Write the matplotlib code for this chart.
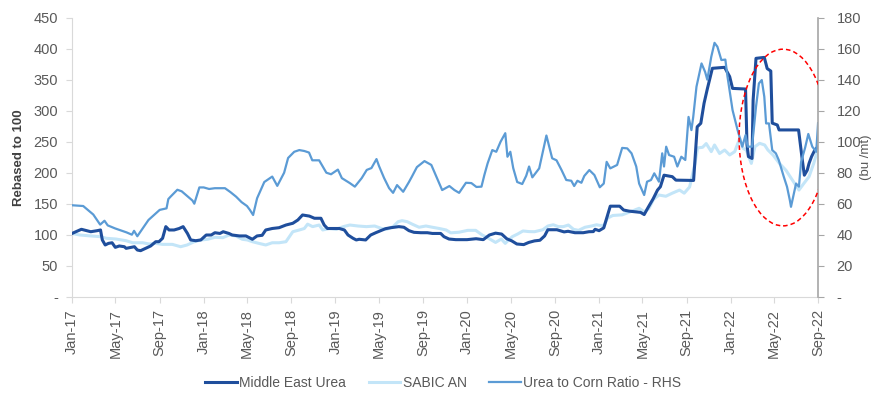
import pandas as pd
import matplotlib
matplotlib.use("Agg")
import matplotlib.pyplot as plt
import matplotlib.dates as mdates
from matplotlib.patches import Ellipse
from matplotlib.ticker import FuncFormatter, MultipleLocator

plt.rcParams['font.family'] = ['Liberation Sans', 'DejaVu Sans']

# Middle East Urea, rebased to 100 (left axis)
urea_dates = [
    "2017-01-01", "2017-01-27", "2017-02-22", "2017-03-12", "2017-03-21", "2017-03-26",
    "2017-04-03", "2017-04-12", "2017-04-22", "2017-05-01", "2017-05-12", "2017-05-26",
    "2017-05-31", "2017-06-14", "2017-06-23", "2017-07-01", "2017-07-10", "2017-07-24",
    "2017-08-07", "2017-08-21", "2017-08-30", "2017-09-09", "2017-09-18", "2017-09-27",
    "2017-10-11", "2017-10-25", "2017-11-05", "2017-11-17", "2017-11-26", "2017-12-10",
    "2017-12-24", "2018-01-08", "2018-01-22", "2018-02-01", "2018-02-15", "2018-02-24",
    "2018-03-12", "2018-03-21", "2018-04-10", "2018-04-28", "2018-05-16", "2018-05-29",
    "2018-06-12", "2018-06-22", "2018-07-10", "2018-07-29", "2018-08-17", "2018-09-05",
    "2018-09-19", "2018-10-02", "2018-10-21", "2018-11-04", "2018-11-22", "2018-12-01",
    "2018-12-10", "2018-12-24", "2019-01-12", "2019-01-26", "2019-02-05", "2019-02-19",
    "2019-02-28", "2019-03-08", "2019-03-26", "2019-04-09", "2019-04-23", "2019-05-11",
    "2019-05-20", "2019-06-04", "2019-06-26", "2019-07-10", "2019-07-24", "2019-08-07",
    "2019-08-26", "2019-09-13", "2019-09-27", "2019-10-20", "2019-10-29", "2019-11-12",
    "2019-12-01", "2020-01-01", "2020-01-26", "2020-02-15", "2020-03-03", "2020-03-20",
    "2020-04-06", "2020-04-20", "2020-05-04", "2020-05-18", "2020-06-06", "2020-06-20",
    "2020-07-06", "2020-07-21", "2020-08-03", "2020-08-12", "2020-09-06", "2020-09-26",
    "2020-10-07", "2020-10-26", "2020-11-18", "2020-12-04", "2020-12-16", "2020-12-21",
    "2021-01-01", "2021-01-14", "2021-01-22", "2021-02-01", "2021-02-27", "2021-03-10",
    "2021-03-25", "2021-04-26", "2021-05-06", "2021-05-16", "2021-05-31", "2021-06-12",
    "2021-06-20", "2021-06-30", "2021-07-23", "2021-08-02", "2021-09-20", "2021-09-30",
    "2021-10-10", "2021-10-19", "2021-10-28", "2021-11-11", "2021-12-15", "2021-12-29",
    "2022-01-06", "2022-02-11", "2022-02-15", "2022-02-19", "2022-03-01", "2022-03-04",
    "2022-03-12", "2022-04-04", "2022-04-12", "2022-04-22", "2022-04-26", "2022-05-10",
    "2022-05-15", "2022-07-08", "2022-07-18", "2022-07-24", "2022-08-01", "2022-08-06",
    "2022-08-13", "2022-08-22", "2022-08-31",
]
urea_vals = [
    102, 108.7, 104.8, 106.5, 107.6, 91.5,
    83.4, 86, 87, 79.6, 81.8, 80.6,
    78, 79.6, 80.6, 75.3, 74.2, 78,
    81.8, 88.7, 88.7, 94.2, 113, 107.6,
    107.6, 110, 113, 102, 91.5, 90.3,
    91.5, 99.5, 99.5, 103.2, 102, 104.8,
    102, 99.5, 98, 98, 92.6, 98,
    99, 107.6, 110, 111.3, 115.6, 118.4,
    123.7, 131.8, 130, 126.5, 126.5, 115.6,
    110, 110, 110, 107.6, 99.5, 94.2,
    91.5, 92.6, 91.5, 99.5, 103.2, 107.6,
    109.7, 111.3, 113, 112, 106.5, 103.8,
    103.2, 103.2, 102, 102, 96.8, 93,
    92, 92, 93.5, 92, 99.5, 102.5,
    101, 93.5, 90, 85, 84, 87.5,
    90, 91, 98, 108, 108, 104.5,
    105.5, 103.2, 103.2, 104.8, 105, 108.7,
    106.5, 111, 126.5, 146, 146, 139.8,
    138, 136, 132.5, 143, 158, 172,
    177.4, 196, 193.6, 188, 187.5, 274,
    279.7, 312, 335, 368.4, 370, 355,
    336, 335, 245, 226, 223, 317,
    384.5, 386, 368, 364, 280, 277,
    269, 269, 222, 196, 204, 215,
    226, 236.6, 242,
]

# SABIC AN, rebased to 100 (left axis)
sabic_dates = [
    "2017-01-01", "2017-01-23", "2017-02-22", "2017-03-21", "2017-04-06", "2017-05-03",
    "2017-05-31", "2017-06-18", "2017-07-16", "2017-08-03", "2017-08-21", "2017-09-09",
    "2017-10-06", "2017-10-29", "2017-11-16", "2017-12-06", "2017-12-24", "2018-01-12",
    "2018-02-01", "2018-02-23", "2018-03-13", "2018-03-31", "2018-04-18", "2018-05-02",
    "2018-05-16", "2018-06-03", "2018-06-22", "2018-07-10", "2018-07-29", "2018-08-17",
    "2018-09-05", "2018-09-23", "2018-10-07", "2018-10-16", "2018-10-30", "2018-11-17",
    "2018-11-27", "2018-12-15", "2019-01-04", "2019-01-23", "2019-02-10", "2019-03-05",
    "2019-03-28", "2019-04-20", "2019-05-09", "2019-05-23", "2019-06-10", "2019-06-24",
    "2019-07-05", "2019-07-19", "2019-08-02", "2019-08-21", "2019-09-09", "2019-09-27",
    "2019-10-16", "2019-11-04", "2019-11-17", "2019-12-10", "2020-01-03", "2020-01-25",
    "2020-02-12", "2020-03-01", "2020-03-20", "2020-04-05", "2020-04-16", "2020-04-26",
    "2020-05-06", "2020-05-20", "2020-06-04", "2020-06-21", "2020-07-06", "2020-07-29",
    "2020-08-12", "2020-08-27", "2020-09-10", "2020-09-24", "2020-10-08", "2020-10-22",
    "2020-11-05", "2020-11-23", "2020-12-11", "2020-12-25", "2021-01-03", "2021-01-15",
    "2021-01-24", "2021-02-08", "2021-03-06", "2021-03-29", "2021-04-22", "2021-05-06",
    "2021-05-19", "2021-06-01", "2021-06-16", "2021-07-05", "2021-07-23", "2021-08-12",
    "2021-08-25", "2021-09-09", "2021-09-24", "2021-10-01", "2021-10-15", "2021-10-25",
    "2021-11-08", "2021-11-17", "2021-12-01", "2021-12-15", "2021-12-29", "2022-01-12",
    "2022-01-26", "2022-02-04", "2022-02-13", "2022-02-27", "2022-03-09", "2022-03-22",
    "2022-04-05", "2022-04-14", "2022-04-28", "2022-05-16", "2022-06-03", "2022-06-21",
    "2022-06-30", "2022-07-09", "2022-07-23", "2022-08-06", "2022-08-19", "2022-08-31",
]
sabic_vals = [
    102, 99.5, 98, 96.8, 94.2, 93,
    90.3, 87, 87, 85, 86, 84.4,
    84.4, 80.6, 83.4, 88.7, 91.5, 92.6,
    95.8, 95.2, 99.5, 98, 92.6, 91.5,
    88.7, 86, 83.4, 87, 87, 88.7,
    104.8, 107.6, 110, 117, 113, 115.6,
    107.6, 110, 108.7, 113, 115.6, 114,
    113, 114, 110, 108.7, 113, 121,
    122.6, 121, 117, 112, 114, 112,
    110, 107.6, 103, 104, 107, 107,
    99.5, 94, 87.5, 93, 86, 92,
    97, 101, 106, 105, 104.8, 108,
    114, 116, 113, 113, 115.6, 108.7,
    107, 112, 114, 116, 115, 115,
    126.5, 131, 132, 137, 142.6, 137,
    142, 157, 164, 162, 167, 172,
    167, 177, 215, 240, 241, 247,
    234, 244.7, 231, 236.6, 228.6, 234,
    255.5, 239.4, 236.6, 215, 242, 247.4,
    244.7, 236.6, 228.6, 215, 204, 188,
    180, 172, 183, 193.6, 215, 239,
]

# Urea to Corn Ratio (bu/mt, right axis)
ratio_dates = [
    "2017-01-01", "2017-02-01", "2017-03-01", "2017-03-20", "2017-04-01", "2017-04-10",
    "2017-05-01", "2017-06-01", "2017-06-16", "2017-06-22", "2017-07-01", "2017-08-01",
    "2017-09-01", "2017-09-20", "2017-09-25", "2017-10-01", "2017-10-20", "2017-11-01",
    "2017-11-16", "2017-12-01", "2017-12-06", "2017-12-20", "2018-01-01", "2018-01-16",
    "2018-02-01", "2018-03-01", "2018-03-16", "2018-04-01", "2018-04-16", "2018-05-01",
    "2018-05-09", "2018-05-18", "2018-05-29", "2018-06-18", "2018-07-10", "2018-07-24",
    "2018-08-12", "2018-08-23", "2018-09-09", "2018-09-23", "2018-10-07", "2018-10-20",
    "2018-10-29", "2018-11-17", "2018-12-07", "2018-12-20", "2019-01-08", "2019-01-19",
    "2019-02-10", "2019-02-24", "2019-03-15", "2019-03-29", "2019-04-11", "2019-04-25",
    "2019-05-02", "2019-05-16", "2019-05-30", "2019-06-10", "2019-06-21", "2019-07-08",
    "2019-07-24", "2019-08-01", "2019-08-15", "2019-09-05", "2019-09-24", "2019-10-08",
    "2019-10-24", "2019-11-13", "2019-11-27", "2019-12-10", "2019-12-29", "2020-01-13",
    "2020-01-27", "2020-02-10", "2020-02-18", "2020-02-27", "2020-03-11", "2020-03-22",
    "2020-04-03", "2020-04-16", "2020-04-22", "2020-04-30", "2020-05-08", "2020-05-19",
    "2020-06-02", "2020-06-13", "2020-06-21", "2020-06-30", "2020-07-19", "2020-07-27",
    "2020-08-08", "2020-08-24", "2020-09-05", "2020-09-19", "2020-10-02", "2020-10-16",
    "2020-10-24", "2020-11-02", "2020-11-13", "2020-11-21", "2020-12-05", "2020-12-19",
    "2021-01-03", "2021-01-14", "2021-01-22", "2021-02-01", "2021-02-20", "2021-03-06",
    "2021-03-20", "2021-04-01", "2021-04-14", "2021-04-22", "2021-05-06", "2021-05-14",
    "2021-05-25", "2021-06-03", "2021-06-16", "2021-06-25", "2021-06-30", "2021-07-06",
    "2021-07-14", "2021-07-28", "2021-08-06", "2021-08-17", "2021-08-28", "2021-09-06",
    "2021-09-14", "2021-09-19", "2021-09-28", "2021-10-12", "2021-10-22", "2021-10-28",
    "2021-11-08", "2021-11-17", "2021-11-25", "2021-12-06", "2021-12-17", "2021-12-23",
    "2022-01-06", "2022-01-20", "2022-02-02", "2022-02-11", "2022-02-17", "2022-03-01",
    "2022-03-12", "2022-03-20", "2022-03-28", "2022-04-04", "2022-04-09", "2022-04-17",
    "2022-04-26", "2022-05-06", "2022-05-14", "2022-05-28", "2022-06-06", "2022-06-14",
    "2022-06-17", "2022-07-01", "2022-07-09", "2022-07-15", "2022-07-26", "2022-08-04",
    "2022-08-15", "2022-08-26", "2022-08-31",
]
ratio_vals = [
    59, 58.5, 53, 46.5, 49, 46,
    44, 41.5, 40, 42.5, 39, 49.5,
    56, 57, 63, 64.5, 69, 68,
    65, 62, 60, 70.5, 70.5, 69.5,
    70, 70, 67.5, 64.5, 61, 58.5,
    56, 52.7, 63.5, 74, 77.5, 71.5,
    80, 89.5, 93.5, 94.6, 94, 93,
    88, 88, 80, 79, 82, 76.5,
    73.3, 71, 76.5, 81.8, 83, 88.8,
    84.3, 76.6, 70, 67, 72, 67.7,
    74, 77.4, 83.6, 87.5, 85, 77.4,
    68.8, 71.4, 68.8, 67, 73.5, 73.3,
    70.8, 71, 78.5, 86, 94.6, 93.5,
    100, 105.5, 90.3, 93.5, 83, 74,
    72.7, 78, 84, 77, 82.8, 91.4,
    104, 89.3, 88, 81.7, 75.3, 74.8,
    71.4, 74.8, 73.5, 77.9, 81.7, 78.5,
    70.6, 73, 87, 82.8, 85, 96,
    95.7, 92.5, 84, 73, 65.6, 74.2,
    75.3, 79.6, 74.2, 92.5, 84, 96.8,
    91.4, 90.3, 84, 90.3, 88.2, 116,
    107.5, 116, 135.5, 150.5, 145, 140,
    154.8, 163.8, 161.3, 152.7, 153, 142,
    120.4, 107.5, 96.8, 104.3, 96.8, 96.8,
    122.5, 137.6, 139.8, 129, 111.8, 111.8,
    94.6, 92.5, 88.2, 77.4, 70.9, 62,
    58, 73, 71, 87, 96, 105,
    96.8, 93.5, 112,
]

tick_grey = "#595959"

fig = plt.figure(figsize=(8.74, 3.94), dpi=100)
ax = fig.add_axes([0.0824, 0.247, 0.854, 0.708])
ax2 = ax.twinx()

l1, = ax.plot(pd.to_datetime(urea_dates), urea_vals, color="#1f4e9c", lw=2.2,
              label="Middle East Urea", zorder=3)
l2, = ax.plot(pd.to_datetime(sabic_dates), sabic_vals, color="#c3e5f8", lw=2.2,
              label="SABIC AN", zorder=2)
l3, = ax2.plot(pd.to_datetime(ratio_dates), ratio_vals, color="#5b9bd5", lw=1.6,
               label="Urea to Corn Ratio - RHS")

ax.set_xlim(pd.Timestamp("2017-01-01"), pd.Timestamp("2022-09-01"))
ax.set_ylim(0, 450)
ax2.set_ylim(0, 180)
ax.yaxis.set_major_locator(MultipleLocator(50))
ax2.yaxis.set_major_locator(MultipleLocator(20))
dash_zero = FuncFormatter(lambda v, p: "-" if v == 0 else f"{v:.0f}")
ax.yaxis.set_major_formatter(dash_zero)
ax2.yaxis.set_major_formatter(dash_zero)

ax.xaxis.set_major_locator(mdates.MonthLocator(bymonth=[1, 5, 9]))
ax.xaxis.set_major_formatter(mdates.DateFormatter("%b-%y"))
for lab in ax.get_xticklabels():
    lab.set_rotation(90)

for a in (ax, ax2):
    a.spines["top"].set_visible(False)
ax.spines["left"].set_color("#d9d9d9")
ax.spines["bottom"].set_color("#d9d9d9")
ax.spines["right"].set_visible(False)
ax2.spines["left"].set_visible(False)
ax2.spines["bottom"].set_visible(False)
ax2.spines["right"].set_color("#a6a6a6")
ax2.spines["right"].set_linewidth(1.2)

ax.tick_params(axis="both", colors="#d9d9d9", labelcolor=tick_grey, labelsize=10.5, length=4)
ax.tick_params(axis="y", pad=6)
ax.tick_params(axis="x", pad=5)
ax2.tick_params(axis="y", colors="#a6a6a6", labelcolor=tick_grey, labelsize=10.5,
                length=4, pad=9)

ax.set_ylabel("Rebased to 100", fontsize=9.5, fontweight="bold", color="#404040", labelpad=6)
fig.text(866 / 874, 0.60, "(bu /mt)", rotation=90, ha="center", va="center",
         fontsize=9.5, color=tick_grey)

# highlight of the 2022 divergence
ell = Ellipse((mdates.date2num(pd.Timestamp("2022-05-26")), 102.7), width=244, height=114,
              fill=False, edgecolor="red", linestyle=(0, (3, 2)), lw=1.1, zorder=5)
ax2.add_patch(ell)

fig.legend(handles=[l1, l2, l3], loc="center", bbox_to_anchor=(0.507, 0.028), ncol=3,
           frameon=False, fontsize=10, labelcolor=tick_grey, handlelength=2.3,
           columnspacing=1.6, handletextpad=0.15)

fig.savefig("out.png", dpi=100)
